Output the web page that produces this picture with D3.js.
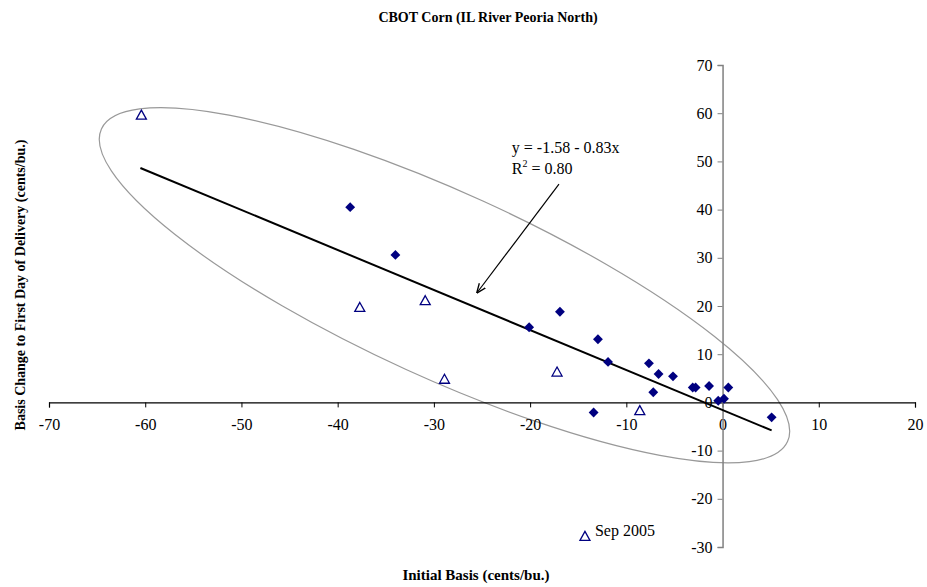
<!DOCTYPE html>
<html><head><meta charset="utf-8">
<script src="https://cdn.jsdelivr.net/npm/d3@7"></script>
<style>
html,body{margin:0;padding:0;background:#fff;}
svg{display:block;font-family:"Liberation Serif","Times New Roman",serif;}
</style></head>
<body>
<svg id="c" width="927" height="587"></svg>
<script>
// ---- data ----
const xTicks = [-70,-60,-50,-40,-30,-20,-10,0,10,20];
const yTicks = [-30,-20,-10,0,10,20,30,40,50,60,70];
// filled diamonds
const diamondX = [-38.7,-34.0,-20.1,-16.9,-12.95,-11.9,-13.4,-7.65,-6.65,-7.2,-5.15,-3.1,-2.8,-1.4,-0.45,0.15,0.6,5.1];
const diamondY = [40.5,30.6,15.6,18.8,13.1,8.4,-2.1,8.1,5.9,2.1,5.4,3.1,3.1,3.4,0.35,0.75,3.1,-3.1];
// open triangles
const triX = [-60.4,-37.7,-30.9,-28.9,-17.2,-8.6];
const triY = [59.6,19.7,21.1,4.8,6.3,-1.7];
// labelled marker
const sepLabel = "Sep 2005";
const sepX = -14.3, sepY = -27.8;
// regression y = a + b x
const regA = -1.58, regB = -0.83;
const regXRange = [-60.5, 5.1];
const eqText = "y = -1.58 - 0.83x";
const r2Text = "0.80";
// arrow (data coords)
const arrowFrom = [-17.0, 45.3], arrowTo = [-25.5, 22.8];
const eqAnchor = [-21.9, 51.7];
// ellipse centre (data)
const ellCenter = [-28.9, 24.3];

const title = "CBOT Corn (IL River Peoria North)";
const xTitle = "Initial Basis (cents/bu.)";
const yTitle = "Basis Change to First Day of Delivery (cents/bu.)";

// ---- drawing ----
const svg = d3.select("#c");
const x = d3.scaleLinear().domain([-70,20]).range([49,915]);
const y = d3.scaleLinear().domain([-30,70]).range([547,65]);
const navy = "#000080";
const fmt = d => String(d);

// ellipse
const ell = {rx:377, ry:92.6, rot:24.5};
svg.append("ellipse")
  .attr("cx",0).attr("cy",0).attr("rx",ell.rx).attr("ry",ell.ry)
  .attr("transform",`translate(${x(ellCenter[0])},${y(ellCenter[1])}) rotate(${ell.rot})`)
  .attr("fill","none").attr("stroke","#999").attr("stroke-width",1.2);

// x axis at y=0
const gx = svg.append("g").attr("transform",`translate(0,${y(0)})`)
  .call(d3.axisBottom(x).tickValues(xTicks).tickSize(5).tickPadding(11).tickFormat(fmt));
gx.select(".domain").attr("stroke","#000").attr("stroke-width",1.2);
gx.selectAll(".tick line").attr("stroke","#000");
gx.selectAll(".tick text").attr("font-size",16).attr("fill","#000")
  .attr("font-family","Liberation Serif");

// y axis at x=0
const gy = svg.append("g").attr("transform",`translate(${x(0)},0)`)
  .call(d3.axisLeft(y).tickValues(yTicks).tickSize(5).tickPadding(5).tickFormat(fmt));
gy.select(".domain").attr("stroke","#808080").attr("stroke-width",1.5);
gy.selectAll(".tick line").attr("stroke","#808080");
gy.selectAll(".tick text").attr("font-size",16).attr("fill","#000")
  .attr("font-family","Liberation Serif");

// regression line
svg.append("line")
  .attr("x1",x(regXRange[0])).attr("y1",y(regA+regB*regXRange[0]))
  .attr("x2",x(regXRange[1])).attr("y2",y(regA+regB*regXRange[1]))
  .attr("stroke","#000").attr("stroke-width",2);

// diamonds
const diamonds = diamondX.map((v,i)=>({x:v,y:diamondY[i]}));
svg.append("g").selectAll("path").data(diamonds).join("path")
  .attr("d",d3.symbol(d3.symbolDiamond2, 62))
  .attr("transform",d=>`translate(${x(d.x)},${y(d.y)})`)
  .attr("fill",navy);

// triangles
const tris = triX.map((v,i)=>({x:v,y:triY[i]}));
tris.push({x:sepX,y:sepY});
const triPath = "M0,-5L5,4L-5,4Z";
svg.append("g").selectAll("path").data(tris).join("path")
  .attr("d",triPath)
  .attr("transform",d=>`translate(${x(d.x)},${y(d.y)})`)
  .attr("fill","#fff").attr("stroke",navy).attr("stroke-width",1.3);

svg.append("text").attr("x",x(sepX)+10).attr("y",y(sepY))
  .attr("font-size",16).text(sepLabel);

// equation annotation
const eq = svg.append("text").attr("x",x(eqAnchor[0])).attr("y",y(eqAnchor[1]))
  .attr("font-size",16).text(eqText);
const r2 = svg.append("text").attr("x",x(eqAnchor[0])).attr("y",y(eqAnchor[1])+21).attr("font-size",16);
r2.append("tspan").text("R");
r2.append("tspan").attr("font-size",10).attr("dy",-7).text("2");
r2.append("tspan").attr("dy",7).text(" = " + r2Text);

// arrow
svg.append("defs").append("marker").attr("id","ah")
  .attr("viewBox","0 0 10 10").attr("refX",9).attr("refY",5)
  .attr("markerWidth",8).attr("markerHeight",8).attr("orient","auto")
  .append("path").attr("d","M0,1L10,5L0,9").attr("fill","none").attr("stroke","#000").attr("stroke-width",1.4);
svg.append("line")
  .attr("x1",x(arrowFrom[0])).attr("y1",y(arrowFrom[1]))
  .attr("x2",x(arrowTo[0])).attr("y2",y(arrowTo[1]))
  .attr("stroke","#000").attr("stroke-width",1.2).attr("marker-end","url(#ah)");

// titles
svg.append("text").attr("x",488).attr("y",22).attr("text-anchor","middle")
  .attr("font-size",14).attr("font-weight","bold").text(title);
svg.append("text").attr("x",476).attr("y",580).attr("text-anchor","middle")
  .attr("font-size",15).attr("font-weight","bold").text(xTitle);
svg.append("text").attr("transform","translate(25,285) rotate(-90)").attr("text-anchor","middle")
  .attr("font-size",14).attr("font-weight","bold").text(yTitle);
</script>
</body></html>
